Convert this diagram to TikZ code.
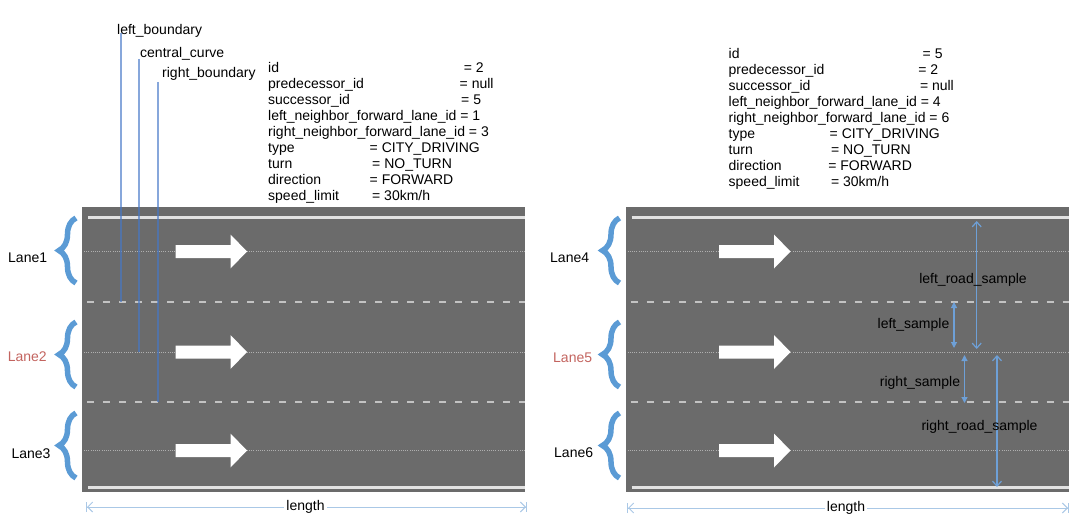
\documentclass[tikz,border=0pt]{standalone}
\usepackage{fontspec}
\setmainfont{Liberation Sans}
\usetikzlibrary{arrows.meta,decorations.pathreplacing}
\definecolor{roadgray}{RGB}{107,107,107}
\definecolor{edgewhite}{RGB}{226,226,226}
\definecolor{dashgray}{RGB}{195,195,195}
\definecolor{dotgray}{RGB}{175,175,175}
\definecolor{braceblue}{RGB}{91,155,213}
\definecolor{markblue}{RGB}{70,120,200}
\definecolor{sampleblue}{RGB}{110,160,215}
\definecolor{lenblue}{RGB}{170,200,230}
\definecolor{lanered}{RGB}{195,100,95}
\newcommand\kv[2]{\makebox[#1pt][l]{#2}}
\begin{document}
\begin{tikzpicture}[x=1pt,y=-1pt,
  every node/.style={inner sep=0pt, font=\fontsize{14}{16}\selectfont},
  roadbg/.style={fill=roadgray, draw=none},
  edgeline/.style={draw=edgewhite, line width=3pt},
  laneline/.style={draw=dashgray, line width=2.5pt, dash pattern=on 7pt off 9pt},
  centerline/.style={draw=dotgray, line width=1pt, dash pattern=on 1pt off 1.2pt},
  dirarrow/.style={fill=white, draw=none},
  lanebrace/.style={draw=braceblue, line width=5.5pt, decorate, decoration={brace, amplitude=17pt}},
  marker/.style={draw=markblue, line width=1.6pt, draw opacity=.65},
  sample/.style={draw=sampleblue, line width=1.2pt, {Triangle[length=6pt,width=6pt]}-{Triangle[length=6pt,width=6pt]}},
  roadsample/.style={draw=sampleblue, line width=1.2pt, {Straight Barb[length=5pt,width=9pt]}-{Straight Barb[length=5pt,width=9pt]}},
  lengtharrow/.style={draw=lenblue, line width=1pt, {Bar[width=10pt]Straight Barb[length=5pt,width=10pt]}-{Straight Barb[length=5pt,width=10pt]Bar[width=10pt]}},
  lenlabel/.style={fill=white, inner xsep=2pt, inner ysep=1pt},
  lanelabel/.style={anchor=west},
  info/.style={anchor=north west, align=left},
]
\useasboundingbox (0,0) rectangle (1082,516);

% roads
\foreach \xo in {82,625.5}{
  \path[roadbg] (\xo,207) rectangle ++(443,285);
  \draw[edgeline] (\xo+6,217) -- (\xo+443,217);
  \draw[edgeline] (\xo+6,487) -- (\xo+443,487);
  \draw[laneline] (\xo+5,302) -- (\xo+443,302);
  \draw[laneline] (\xo+5,402) -- (\xo+443,402);
  \foreach \yc in {251.5,352,450.5}{
    \draw[centerline] (\xo+2,\yc) -- (\xo+443,\yc);
    \fill[dirarrow] (\xo+93.5,\yc-6.5) -- (\xo+148.5,\yc-6.5) -- (\xo+148.5,\yc-17)
      -- (\xo+165,\yc) -- (\xo+148.5,\yc+17) -- (\xo+148.5,\yc+6.5) -- (\xo+93.5,\yc+6.5) -- cycle;
  }
}

% braces
\foreach \xb in {76,619.5}{
  \draw[lanebrace] (\xb,283) -- (\xb,218);
  \draw[lanebrace] (\xb,387) -- (\xb,322);
  \draw[lanebrace] (\xb,478) -- (\xb,413);
}

% lane labels
\node[lanelabel] (lane1) at (8,258) {Lane1};
\node[lanelabel, text=lanered] (lane2) at (7.6,357) {Lane2};
\node[lanelabel] (lane3) at (11.4,454) {Lane3};
\node[lanelabel] (lane4) at (550,258) {Lane4};
\node[lanelabel, text=lanered] (lane5) at (553,358) {Lane5};
\node[lanelabel] (lane6) at (554,453) {Lane6};

% boundary markers
\node[anchor=base west] (lb) at (117,34.5) {left\_boundary};
\node[anchor=base west] (cc) at (140,58) {central\_curve};
\node[anchor=base west] (rb) at (162,77.7) {right\_boundary};
\coordinate (lbtop) at (121,33);
\coordinate (lbend) at (121,302);
\coordinate (cctop) at (139,59);
\coordinate (ccend) at (139,352);
\coordinate (rbtop) at (158,82);
\coordinate (rbend) at (158,402);
\draw[marker] (lbtop) -- (lbend);
\draw[marker] (cctop) -- (ccend);
\draw[marker] (rbtop) -- (rbend);

% info blocks
\node[info] (infoL) at (268,62.3) {%
\kv{195.7}{id}= 2\\
\kv{191.5}{predecessor\_id}= null\\
\kv{193}{successor\_id}= 5\\
left\_neighbor\_forward\_lane\_id = 1\\
right\_neighbor\_forward\_lane\_id = 3\\
\kv{101.5}{type}= CITY\_DRIVING\\
\kv{104}{turn}= NO\_TURN\\
\kv{101.5}{direction}= FORWARD\\
\kv{104}{speed\_limit}= 30km/h};

\node[info] (infoR) at (728.5,47.8) {%
\kv{194}{id}= 5\\
\kv{189.6}{predecessor\_id}= 2\\
\kv{191.3}{successor\_id}= null\\
left\_neighbor\_forward\_lane\_id = 4\\
right\_neighbor\_forward\_lane\_id = 6\\
\kv{101}{type}= CITY\_DRIVING\\
\kv{102.4}{turn}= NO\_TURN\\
\kv{99.6}{direction}= FORWARD\\
\kv{102.4}{speed\_limit}= 30km/h};

% sample arrows
\coordinate (lrsA) at (976.7,221);
\coordinate (lrsB) at (976.7,349);
\coordinate (lsA) at (954,302);
\coordinate (lsB) at (954,348);
\coordinate (rsA) at (964.5,355);
\coordinate (rsB) at (964.5,403);
\coordinate (rrsA) at (997,355);
\coordinate (rrsB) at (997,487);
\draw[roadsample] (lrsA) -- (lrsB);
\draw[sample] (lsA) -- (lsB);
\draw[sample] (rsA) -- (rsB);
\draw[roadsample] (rrsA) -- (rrsB);
\node (lrsl) at (973,280) {left\_road\_sample};
\node (lsl) at (913.5,325) {left\_sample};
\node (rsl) at (920,383) {right\_sample};
\node (rrsl) at (979.5,427) {right\_road\_sample};

% length arrows
\coordinate (lenLa) at (86,507);
\coordinate (lenLb) at (527,507);
\coordinate (lenRa) at (627,508);
\coordinate (lenRb) at (1069,508);
\draw[lengtharrow] (lenLa) -- (lenLb);
\draw[lengtharrow] (lenRa) -- (lenRb);
\node[lenlabel] (lenL) at (305.5,507) {length};
\node[lenlabel] (lenR) at (846,508) {length};
\end{tikzpicture}
\end{document}
